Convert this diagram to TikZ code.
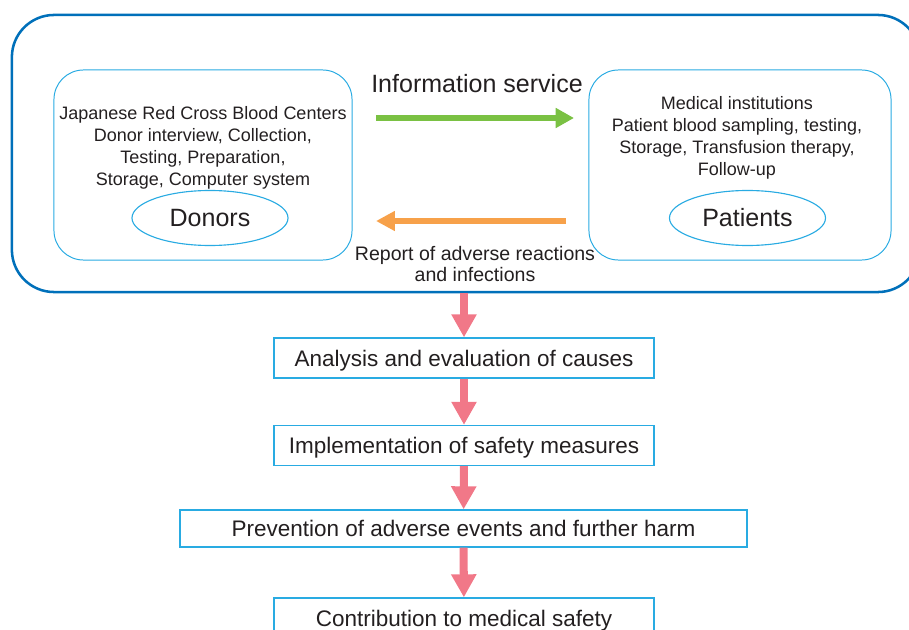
\documentclass[tikz,border=0pt]{standalone}
\usepackage{fontspec}
\setmainfont{Liberation Sans}
\usetikzlibrary{arrows.meta,shapes.geometric}

\definecolor{frameblue}{RGB}{0,112,186}
\definecolor{boxcyan}{RGB}{41,171,226}
\definecolor{infogreen}{RGB}{122,193,67}
\definecolor{reportorange}{RGB}{247,161,74}
\definecolor{flowpink}{RGB}{241,120,136}
\definecolor{inkgray}{RGB}{35,31,32}

\begin{document}
\begin{tikzpicture}[x=0.025cm, y=-0.025cm, text=inkgray,
  outerbox/.style={draw=frameblue, line width=1.8pt, rounded corners=30pt, minimum width=22.7cm, minimum height=6.925cm},
  sidebox/.style={draw=boxcyan, line width=0.7pt, rounded corners=21pt, minimum height=4.75cm},
  party/.style={ellipse, draw=boxcyan, line width=0.8pt, inner sep=0pt, minimum width=3.9cm, minimum height=1.375cm, font=\fontsize{17.8}{20}\selectfont},
  boxtext/.style={align=center, font=\fontsize{12.8}{15.6}\selectfont},
  flowbox/.style={draw=boxcyan, line width=0.9pt, minimum height=1cm, text height=11.5pt, text depth=0pt, font=\fontsize{16}{18}\selectfont},
  flowarrow/.style={draw=flowpink, line width=5.7pt, -{Triangle[width=17pt, length=16.4pt]}},
  infoarrow/.style={draw=infogreen, line width=3.6pt, -{Triangle[width=13.5pt, length=13pt]}},
  reportarrow/.style={draw=reportorange, line width=3.6pt, -{Triangle[width=13.5pt, length=13.5pt]}}]
\clip (0,0) rectangle (909,630); \useasboundingbox (0,0) rectangle (909,630);

% network of blood centers and hospitals
\node[outerbox] (net) at (466,153.5) {};
\node[sidebox, minimum width=7.45cm] (centers) at (203,165) {};
\node[sidebox, minimum width=7.55cm] (hospitals) at (740,165) {};
\node[boxtext] (ctext) at (203,148) {Japanese Red Cross Blood Centers\\Donor interview, Collection,\\Testing, Preparation,\\Storage, Computer system};
\node[boxtext] (htext) at (737,138) {Medical institutions\\Patient blood sampling, testing,\\Storage, Transfusion therapy,\\Follow-up};
\node[party] (donors) at (210,218) {Donors}; \node[party] (patients) at (747.5,218) {Patients};

% two-way exchange
\coordinate (g1) at (376,118); \coordinate (g2) at (574,118); \coordinate (o1) at (566,221); \coordinate (o2) at (376,221);
\draw[infoarrow] (g1) -- (g2); \draw[reportarrow] (o1) -- (o2);
\node[font=\fontsize{17.8}{20}\selectfont] (info) at (477,84) {Information service};
\node[align=center, font=\fontsize{13.9}{15.6}\selectfont] (report) at (475,264) {Report of adverse reactions\\and infections};

% flow of safety measures
\node[flowbox, minimum width=9.5cm] (analysis) at (464,358) {Analysis and evaluation of causes};
\node[flowbox, minimum width=9.5cm] (measures) at (464,445.5) {Implementation of safety measures};
\node[flowbox, minimum width=14.175cm, minimum height=0.925cm] (prevent) at (463.5,528.5) {Prevention of adverse events and further harm};
\node[flowbox, minimum width=9.5cm] (contrib) at (464,618) {Contribution to medical safety};
\draw[flowarrow] (net.south -| analysis.north) -- (analysis.north);
\draw[flowarrow] (analysis) -- (measures); \draw[flowarrow] (measures) -- (prevent); \draw[flowarrow] (prevent) -- (contrib);
\end{tikzpicture}
\end{document}
